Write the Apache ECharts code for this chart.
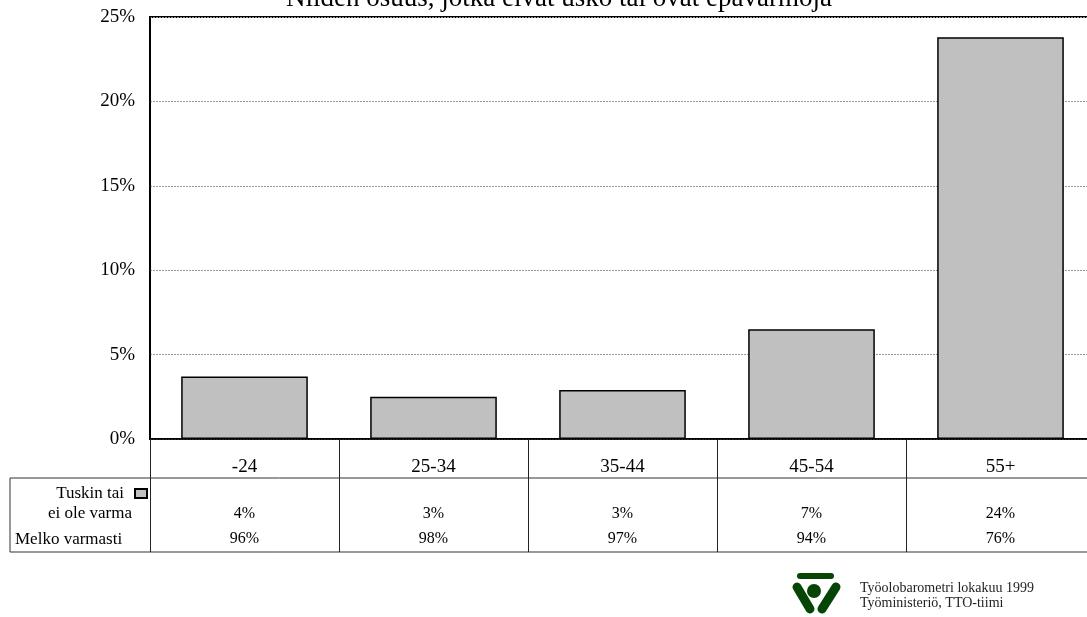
<!DOCTYPE html>
<html>
<head>
<meta charset="utf-8">
<script src="https://cdn.jsdelivr.net/npm/echarts@6/dist/echarts.min.js"></script>
<style>html,body{margin:0;padding:0;background:#fff}#c{width:1087px;height:617px}</style>
</head>
<body>
<div id="c"></div>
<script>
const categories = ['-24', '25-34', '35-44', '45-54', '55+'];
const barValues = [3.7, 2.5, 2.9, 6.5, 23.8];
const tableUnsure = [4, 3, 3, 7, 24];
const tableSure = [96, 98, 97, 94, 76];
const yTicks = [0, 5, 10, 15, 20, 25];
const seriesName = 'Tuskin tai';
const rowLabel2 = 'ei ole varma';
const rowLabel3 = 'Melko varmasti';
const titleText = 'Niiden osuus, jotka eivät usko tai ovat epävarmoja';
const credits = ['Työolobarometri lokakuu 1999', 'Työministeriö, TTO-tiimi'];

const FONT = '"Liberation Serif", "Times New Roman", serif';
const chart = echarts.init(document.getElementById('c'), null, {renderer: 'canvas'});
const green = '#064506';

chart.setOption({
  animation: false,
  backgroundColor: '#fff',
  textStyle: {fontFamily: FONT, color: '#000'},
  grid: {left: 150, width: 945, top: 17, bottom: 178, show: true, borderColor: '#000', borderWidth: 2, containLabel: false, outerBoundsMode: 'none'},
  legend: {
    data: [seriesName], align: 'right', icon: 'rect', right: 939, top: 485, padding: 0,
    itemWidth: 12, itemHeight: 9,
    textStyle: {fontFamily: FONT, fontSize: 17, color: '#000', padding: [0, 6, 0, 0]}
  },
  yAxis: {
    type: 'value', min: yTicks[0], max: yTicks[yTicks.length - 1], interval: 5,
    axisLine: {show: true, lineStyle: {color: '#000', width: 1.5}},
    axisTick: {show: false},
    axisLabel: {formatter: '{value}%', fontFamily: FONT, fontSize: 19, color: '#000', margin: 15, padding: [5, 0, 0, 0]},
    splitLine: {show: true, lineStyle: {color: '#999', type: [2, 1], width: 1}}
  },
  xAxis: [
    {
      type: 'category', data: categories, position: 'bottom',
      axisLine: {show: true, lineStyle: {color: '#000', width: 1.5}},
      axisTick: {show: true, length: 113, lineStyle: {color: '#222', width: 1}},
      axisLabel: {fontFamily: FONT, fontSize: 19, color: '#000', margin: 19}
    },
    {
      type: 'category', data: tableUnsure.map(v => v + '%'), position: 'bottom',
      axisLine: {show: false}, axisTick: {show: false},
      axisLabel: {fontFamily: FONT, fontSize: 16, color: '#000', margin: 67}
    },
    {
      type: 'category', data: tableSure.map(v => v + '%'), position: 'bottom',
      axisLine: {show: false}, axisTick: {show: false},
      axisLabel: {fontFamily: FONT, fontSize: 16, color: '#000', margin: 92}
    }
  ],
  series: [{
    name: seriesName, type: 'bar', data: barValues, xAxisIndex: 0,
    barCategoryGap: '33%',
    itemStyle: {color: '#c0c0c0', borderColor: '#000', borderWidth: 1.5}
  }],
  graphic: [
    {type: 'text', x: 559, y: 12, style: {text: titleText, font: '27px ' + FONT, fill: '#000', textAlign: 'center', textVerticalAlign: 'bottom'}},
    {type: 'rect', shape: {x: 10, y: 478, width: 1090, height: 74}, style: {fill: 'none', stroke: '#333', lineWidth: 1}},
    {type: 'text', x: 132, y: 514, style: {text: rowLabel2, font: '17px ' + FONT, fill: '#000', textAlign: 'right', textVerticalAlign: 'middle'}},
    {type: 'text', x: 15, y: 540, style: {text: rowLabel3, font: '17px ' + FONT, fill: '#000', textAlign: 'left', textVerticalAlign: 'middle'}},
    {type: 'text', x: 860, y: 588, style: {text: credits[0], font: '14px ' + FONT, fill: '#222', textAlign: 'left', textVerticalAlign: 'middle'}},
    {type: 'text', x: 860, y: 603, style: {text: credits[1], font: '14px ' + FONT, fill: '#222', textAlign: 'left', textVerticalAlign: 'middle'}},
    {type: 'line', shape: {x1: 800, y1: 576, x2: 831, y2: 576}, style: {stroke: green, lineWidth: 6, lineCap: 'round'}},
    {type: 'circle', shape: {cx: 814, cy: 591, r: 7}, style: {fill: green}},
    {type: 'line', shape: {x1: 797, y1: 587, x2: 810, y2: 609}, style: {stroke: green, lineWidth: 9, lineCap: 'round'}},
    {type: 'line', shape: {x1: 836, y1: 587, x2: 822, y2: 609}, style: {stroke: green, lineWidth: 9, lineCap: 'round'}}
  ]
});
</script>
</body>
</html>
